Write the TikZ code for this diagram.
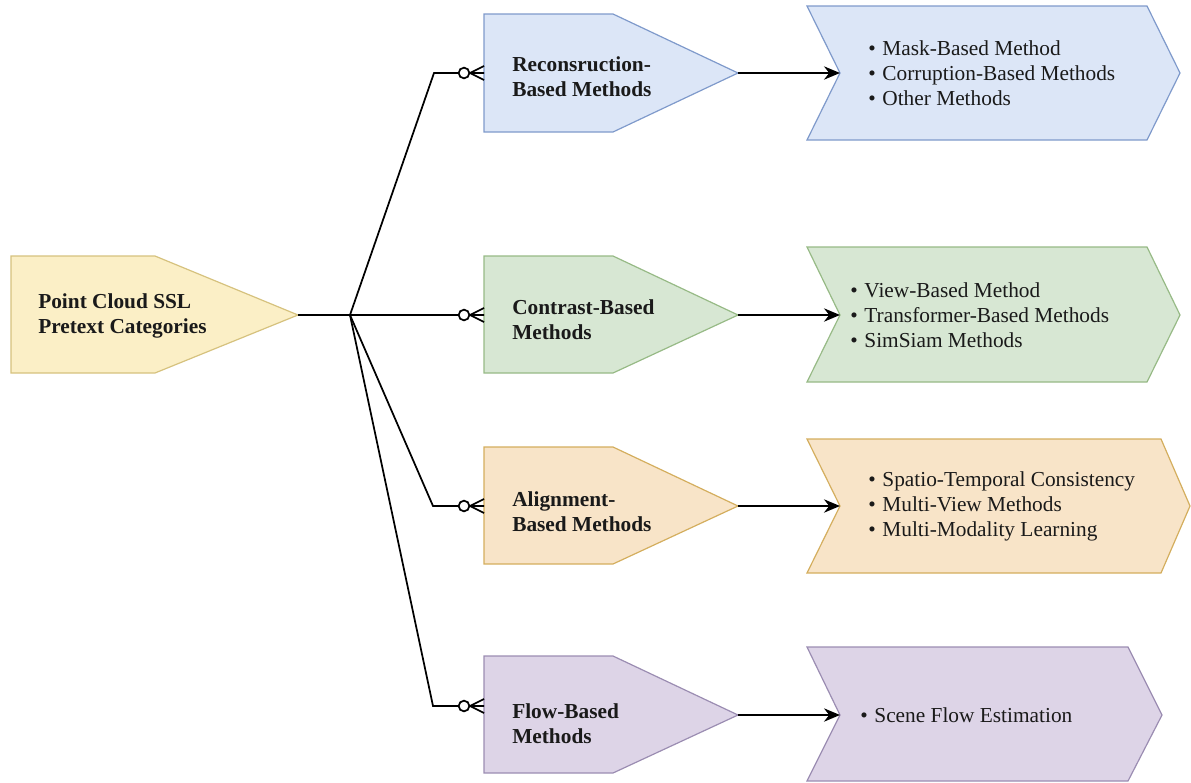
\documentclass[tikz,border=0pt]{standalone}
\usepackage{fontspec}
\setmainfont{Liberation Serif}
\usetikzlibrary{arrows.meta}
\definecolor{yelF}{HTML}{FBEFC6}
\definecolor{yelD}{HTML}{D6C27E}
\definecolor{bluF}{HTML}{DCE6F7}
\definecolor{bluD}{HTML}{7F9ACB}
\definecolor{grnF}{HTML}{D7E7D3}
\definecolor{grnD}{HTML}{97BA86}
\definecolor{oraF}{HTML}{F8E4C8}
\definecolor{oraD}{HTML}{D4AE5E}
\definecolor{purF}{HTML}{DDD4E7}
\definecolor{purD}{HTML}{9B8DB2}
\definecolor{txt}{HTML}{1A1A1A}
\begin{document}
\begin{tikzpicture}[x=0.75pt,y=-0.75pt,
  shp/.style={line width=0.9pt},
  conn/.style={line width=1.3pt, draw=black},
  arr/.style={conn,-{Stealth[length=12pt,width=10pt]}},
  boldlbl/.style={anchor=west, text=txt, font=\fontsize{16}{18.75}\selectfont\bfseries, align=left, inner sep=0pt},
  listlbl/.style={anchor=west, text=txt, font=\fontsize{16}{18.75}\selectfont, align=left, inner sep=0pt},
  crowfoot/.pic={
    \draw[conn] (4,0) -- (20,0) (6,0) -- (20,-7) (6,0) -- (20,7);
    \draw[conn,fill=white] (0,0) circle[radius=4pt];
  }
]
\useasboundingbox (0,0) rectangle (1191,782);

% root
\draw[shp,fill=yelF,draw=yelD] (11,256) -- (155,256) -- (298,315) -- (155,373) -- (11,373) -- cycle;
\coordinate (rtip) at (298,315);
\node[boldlbl] (root) at (38,316) {Point Cloud SSL\\Pretext Categories};

% category boxes
\draw[shp,fill=bluF,draw=bluD] (484,14) -- (613,14) -- (738,73) -- (613,132) -- (484,132) -- cycle;
\draw[shp,fill=grnF,draw=grnD] (484,256) -- (613,256) -- (738,315) -- (613,373) -- (484,373) -- cycle;
\draw[shp,fill=oraF,draw=oraD] (484,447) -- (613,447) -- (738,506) -- (613,564) -- (484,564) -- cycle;
\draw[shp,fill=purF,draw=purD] (484,656) -- (613,656) -- (738,715) -- (613,773) -- (484,773) -- cycle;
\coordinate (t1) at (738,73);
\coordinate (t2) at (738,315);
\coordinate (t3) at (738,506);
\coordinate (t4) at (738,715);
\node[boldlbl] (b1) at (512,77) {Reconsruction-\\Based Methods};
\node[boldlbl] (b2) at (512,320) {Contrast-Based\\Methods};
\node[boldlbl] (b3) at (512,512) {Alignment-\\Based Methods};
\node[boldlbl] (b4) at (512,724) {Flow-Based\\Methods};

% chevrons
\draw[shp,fill=bluF,draw=bluD] (807,6) -- (1147,6) -- (1180,73) -- (1147,140) -- (807,140) -- (840,73) -- cycle;
\draw[shp,fill=grnF,draw=grnD] (807,247) -- (1147,247) -- (1180,315) -- (1147,382) -- (807,382) -- (840,315) -- cycle;
\draw[shp,fill=oraF,draw=oraD] (807,439) -- (1161,439) -- (1190,506) -- (1161,573) -- (807,573) -- (840,506) -- cycle;
\draw[shp,fill=purF,draw=purD] (807,647) -- (1128,647) -- (1162,715) -- (1128,781) -- (807,781) -- (840,715) -- cycle;
\coordinate (n1) at (840,73);
\coordinate (n2) at (840,315);
\coordinate (n3) at (840,506);
\coordinate (n4) at (840,715);
\node[listlbl] (l1) at (868,73) {\textbullet\hspace{5pt}Mask-Based Method\\\textbullet\hspace{5pt}Corruption-Based Methods\\\textbullet\hspace{5pt}Other Methods};
\node[listlbl] (l2) at (850,315) {\textbullet\hspace{5pt}View-Based Method\\\textbullet\hspace{5pt}Transformer-Based Methods\\\textbullet\hspace{5pt}SimSiam Methods};
\node[listlbl] (l3) at (868,506) {\textbullet\hspace{5pt}Spatio-Temporal Consistency\\\textbullet\hspace{5pt}Multi-View Methods\\\textbullet\hspace{5pt}Multi-Modality Learning};
\node[listlbl] (l4) at (860,715) {\textbullet\hspace{5pt}Scene Flow Estimation};

% tree connectors
\coordinate (br) at (350,315);
\coordinate (k1) at (434,73);
\coordinate (k3) at (433,506);
\coordinate (k4) at (433,706);
\coordinate (c1) at (464,73);
\coordinate (c2) at (464,315);
\coordinate (c3) at (464,506);
\coordinate (c4) at (464,706);
\draw[conn] (rtip) -- (br);
\draw[conn] (br) -- (k1) -- (c1);
\draw[conn] (br) -- (c2);
\draw[conn] (br) -- (k3) -- (c3);
\draw[conn] (br) -- (k4) -- (c4);
\pic at (c1) {crowfoot};
\pic at (c2) {crowfoot};
\pic at (c3) {crowfoot};
\pic at (c4) {crowfoot};

% arrows
\draw[arr] (t1) -- (n1);
\draw[arr] (t2) -- (n2);
\draw[arr] (t3) -- (n3);
\draw[arr] (t4) -- (n4);
\end{tikzpicture}
\end{document}
